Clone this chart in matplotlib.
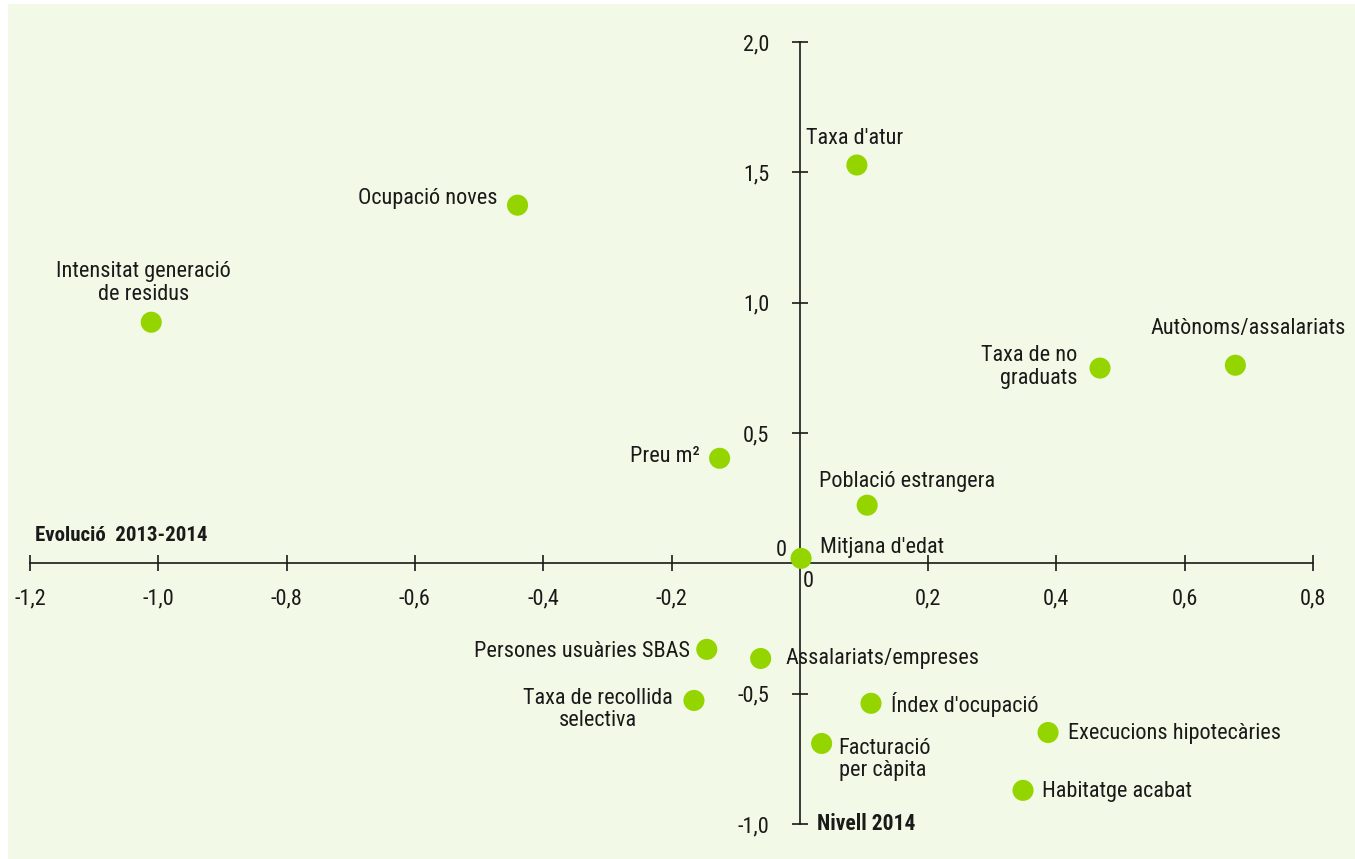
import matplotlib
matplotlib.use("Agg")
import matplotlib.pyplot as plt
from matplotlib.patches import Rectangle
from matplotlib import font_manager

names = {f.name for f in font_manager.fontManager.ttflist}
fam = next((n for n in ['Roboto Condensed', 'Archivo Narrow', 'Barlow Semi Condensed',
                        'Asap Condensed', 'DejaVu Sans'] if n in names), 'DejaVu Sans')
plt.rcParams['font.family'] = [fam, 'DejaVu Sans']

labels = ["Taxa d'atur", "Ocupació noves", "Intensitat generació\nde residus",
          "Taxa de no\ngraduats", "Autònoms/assalariats", "Preu m²",
          "Població estrangera", "Mitjana d'edat", "Persones usuàries SBAS",
          "Assalariats/empreses", "Taxa de recollida\nselectiva", "Índex d'ocupació",
          "Execucions hipotecàries", "Facturació\nper càpita", "Habitatge acabat"]
evolucio = [0.089, -0.44, -1.011, 0.468, 0.679, -0.125, 0.105, 0.002,
            -0.145, -0.061, -0.165, 0.111, 0.387, 0.034, 0.348]
nivell = [1.528, 1.374, 0.925, 0.749, 0.760, 0.403, 0.223, 0.019,
          -0.330, -0.365, -0.526, -0.537, -0.649, -0.691, -0.871]

xticks = [-1.2, -1.0, -0.8, -0.6, -0.4, -0.2, 0.2, 0.4, 0.6, 0.8]
yticks = [-1.0, -0.5, 0.5, 1.0, 1.5, 2.0]

# label placement (offset pixels, ha, multialign)
place = [(-2, 27, 'center', 'center'), (-20, 7, 'right', 'right'),
         (-8, 39, 'center', 'center'), (-23, 1, 'right', 'right'),
         (13, 37, 'center', 'center'), (-20, 2, 'right', 'right'),
         (40, 24, 'center', 'center'), (19, 11, 'left', 'left'),
         (-17, -2, 'right', 'right'), (25, 0, 'left', 'left'),
         (-21, -9, 'right', 'center'), (20, -1, 'left', 'left'),
         (20, -1, 'left', 'left'), (17, -16, 'left', 'left'),
         (19, -1, 'left', 'left')]

W, H = 1355, 859
fig = plt.figure(figsize=(W / 100, H / 100), dpi=100, facecolor='white')
bg = '#f3f9e7'
fig.patches.append(Rectangle((8 / W, 0), 1 - 8 / W, 1 - 4 / H, transform=fig.transFigure,
                             facecolor=bg, edgecolor='none', zorder=-10))

ax = fig.add_axes([30 / W, 1 - 824 / H, (1313 - 30) / W, (824 - 42) / H])
ax.set_facecolor('none')
ax.set_xlim(-1.2, 0.8)
ax.set_ylim(-1.0, 2.0)
for s in ['top', 'right']:
    ax.spines[s].set_visible(False)
ax.spines['left'].set_position(('data', 0))
ax.spines['bottom'].set_position(('data', 0))
for s in ['left', 'bottom']:
    ax.spines[s].set_color('#1a1a1a')
    ax.spines[s].set_linewidth(1.2)

ax.set_xticks(xticks)
ax.set_xticklabels([f"{v:.1f}".replace('.', ',') for v in xticks])
ax.set_yticks(yticks)
ax.set_yticklabels([f"{v:.1f}".replace('.', ',') for v in yticks])
ax.tick_params(axis='x', direction='inout', length=12, width=1.2, pad=12,
               labelsize=16, colors='#1a1a1a')
ax.tick_params(axis='y', direction='inout', length=12, width=1.2, pad=16,
               labelsize=16, colors='#1a1a1a')

ax.scatter(evolucio, nivell, s=230, color='#94d500', zorder=5, clip_on=False,
           edgecolors='none')

for x, y, lab, (dx, dy, ha, ma) in zip(evolucio, nivell, labels, place):
    ax.annotate(lab, (x, y), xytext=(dx, dy), textcoords='offset pixels',
                ha=ha, va='center', multialignment=ma, fontsize=16,
                color='#1a1a1a', linespacing=1.1)

# zero labels
ax.annotate('0', (0, 0), xytext=(-13, 13), textcoords='offset pixels',
            ha='right', va='center', fontsize=16, color='#1a1a1a')
ax.annotate('0', (0, 0), xytext=(8, -18), textcoords='offset pixels',
            ha='center', va='center', fontsize=16, color='#1a1a1a')

ax.annotate('Evolució  2013-2014', (-1.2, 0), xytext=(5, 28), textcoords='offset pixels',
            ha='left', va='center', fontsize=15, fontweight='bold', color='#1a1a1a')
ax.annotate('Nivell 2014', (0, -1.0), xytext=(17, 0), textcoords='offset pixels',
            ha='left', va='center', fontsize=15.5, fontweight='bold', color='#1a1a1a')

fig.savefig('out.png', dpi=100, facecolor='white')
